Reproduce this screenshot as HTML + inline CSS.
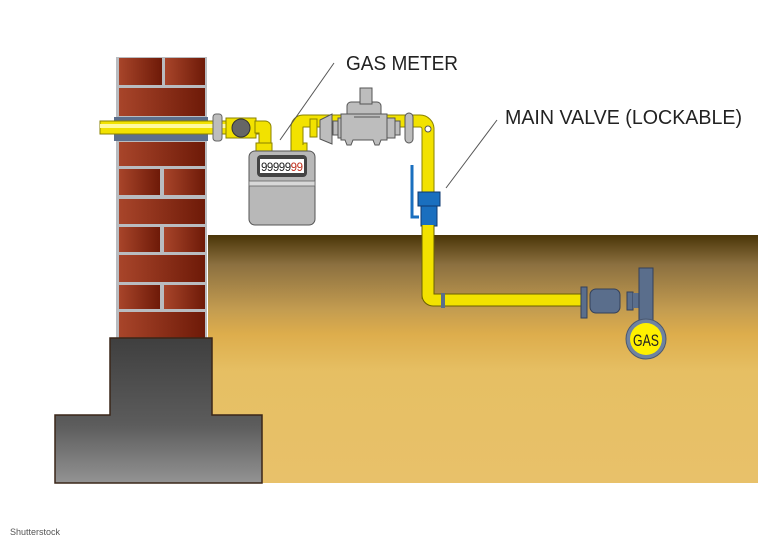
<!DOCTYPE html>
<html><head><style>body{margin:0;background:#fff}svg{display:block}</style></head><body>
<svg width="768" height="543" viewBox="0 0 768 543" xmlns="http://www.w3.org/2000/svg" font-family="Liberation Sans, sans-serif">
<defs>
<linearGradient id="gr" x1="0" y1="0" x2="0" y2="1">
<stop offset="0" stop-color="#4a3508"/><stop offset="0.12" stop-color="#8c7040"/><stop offset="0.3" stop-color="#c39c50"/><stop offset="0.4" stop-color="#ddad4c"/><stop offset="0.55" stop-color="#e6bf63"/><stop offset="1" stop-color="#e8c16a"/></linearGradient>
<linearGradient id="br" x1="0" y1="0" x2="1" y2="0"><stop offset="0" stop-color="#a8452a"/><stop offset="1" stop-color="#6e1a08"/></linearGradient>
<linearGradient id="fd" x1="0" y1="0" x2="0" y2="1"><stop offset="0" stop-color="#3f3f3f"/><stop offset="0.6" stop-color="#5c5c5c"/><stop offset="1" stop-color="#939393"/></linearGradient>
</defs>
<rect x="208" y="235" width="550" height="248" fill="url(#gr)"/>
<line x1="206" y1="170" x2="206" y2="338" stroke="#3a2a10" stroke-width="2"/>
<rect x="116" y="57" width="91" height="282" fill="#b9bcc0"/>
<g fill="url(#br)">
<rect x="119" y="58" width="43" height="27"/><rect x="165" y="58" width="40" height="27"/>
<rect x="119" y="88" width="86" height="28"/>
<rect x="119" y="142" width="86" height="24"/>
<rect x="119" y="169" width="41" height="26"/><rect x="164" y="169" width="41" height="26"/>
<rect x="119" y="199" width="86" height="25"/>
<rect x="119" y="227" width="41" height="25"/><rect x="164" y="227" width="41" height="25"/>
<rect x="119" y="255" width="86" height="27"/>
<rect x="119" y="285" width="41" height="24"/><rect x="164" y="285" width="41" height="24"/>
<rect x="119" y="312" width="86" height="26"/>
</g>
<path d="M110 338H212V415H262V483H55V415H110Z" fill="url(#fd)" stroke="#3a2618" stroke-width="1.5"/>
<rect x="114" y="117" width="94" height="24" fill="#5c6f8c"/>
<rect x="100" y="121" width="165" height="13" fill="#f2e200" stroke="#8a8200" stroke-width="1"/>
<rect x="100" y="124" width="165" height="4" fill="#fffaa0"/>
<rect x="213" y="114" width="9" height="27" rx="3" fill="#bdbdbd" stroke="#666"/>
<rect x="226" y="118" width="30" height="20" fill="#f2e200" stroke="#8a8200"/>
<circle cx="241" cy="128" r="9" fill="#666" stroke="#333"/>
<path d="M255 121h10a6 6 0 0 1 6 6v20h-12v-14h-4z" fill="#f2e200" stroke="#8a8200"/>
<rect x="256" y="143" width="16" height="8" fill="#f2e200" stroke="#8a8200"/>
<rect x="291" y="143" width="16" height="8" fill="#f2e200" stroke="#8a8200"/>
<rect x="249" y="151" width="66" height="74" rx="6" fill="#b8b8b8" stroke="#555"/>
<rect x="249" y="181" width="66" height="5" fill="#d8d8d8" stroke="#666" stroke-width="0.8"/>
<rect x="257" y="155" width="50" height="22" rx="4" fill="#444"/>
<rect x="260" y="159" width="44" height="14" fill="#fff"/>
<text x="261" y="171" font-size="11.5" fill="#222" textLength="42">99999<tspan fill="#c0301e">99</tspan></text>
<path d="M297 145v-18a6 6 0 0 1 6 -6h117a8 8 0 0 1 8 8v170" fill="none" stroke="#8a8200" stroke-width="13"/>
<path d="M297 145v-18a6 6 0 0 1 6 -6h117a8 8 0 0 1 8 8v170" fill="none" stroke="#f2e200" stroke-width="11"/>
<rect x="310" y="119" width="7" height="18" fill="#f2e200" stroke="#8a8200"/>
<path d="M320 120l12 -6v30l-12 -5z" fill="#bdbdbd" stroke="#555"/>
<rect x="333" y="121" width="5" height="14" fill="#bdbdbd" stroke="#555"/>
<rect x="338" y="118" width="10" height="20" fill="#bdbdbd" stroke="#555"/>
<rect x="385" y="118" width="10" height="20" fill="#bdbdbd" stroke="#555"/>
<rect x="395" y="121" width="5" height="14" fill="#bdbdbd" stroke="#555"/>
<path d="M347 114h40v26h-6l-2 5h-4l-2 -5h-20l-2 5h-4l-2 -5h-4v-26h6v-8a4 4 0 0 1 4 -4h26a4 4 0 0 1 4 4v8" fill="#bdbdbd" stroke="#555"/>
<line x1="354" y1="117" x2="380" y2="117" stroke="#555"/>
<rect x="360" y="88" width="12" height="16" fill="#bdbdbd" stroke="#555"/>
<rect x="405" y="113" width="8" height="30" rx="4" fill="#bdbdbd" stroke="#555"/>
<circle cx="428" cy="129" r="3" fill="#fff" stroke="#555"/>
<rect x="418" y="192" width="22" height="14" fill="#1a6fbf" stroke="#0d3a70"/>
<rect x="421" y="206" width="16" height="20" fill="#1a6fbf" stroke="#0d3a70"/>
<path d="M412 165v52h7" fill="none" stroke="#1a6fbf" stroke-width="3"/>
<path d="M428 225v70a5 5 0 0 0 5 5h150" fill="none" stroke="#6a6000" stroke-width="13"/>
<path d="M428 225v70a5 5 0 0 0 5 5h150" fill="none" stroke="#f2e200" stroke-width="11"/>
<rect x="441" y="293" width="4" height="15" fill="#5a6e8c"/>
<rect x="581" y="287" width="6" height="31" fill="#5a6e8c" stroke="#33405a"/>
<rect x="590" y="289" width="30" height="24" rx="6" fill="#5a6e8c" stroke="#33405a"/>
<rect x="627" y="292" width="6" height="18" fill="#5a6e8c" stroke="#33405a"/>
<rect x="633" y="293" width="14" height="15" fill="#5a6e8c"/>
<rect x="639" y="268" width="14" height="55" fill="#5a6e8c" stroke="#33405a"/>
<circle cx="646" cy="339" r="20" fill="#6f83a0" stroke="#4a5870"/>
<circle cx="646" cy="339" r="16" fill="#fff000"/>
<text x="633" y="346" font-size="17" fill="#222" textLength="26" lengthAdjust="spacingAndGlyphs">GAS</text>
<line x1="334" y1="63" x2="280" y2="140" stroke="#555" stroke-width="1"/>
<text x="346" y="70" font-size="20" fill="#222" textLength="112" lengthAdjust="spacingAndGlyphs">GAS METER</text>
<line x1="497" y1="120" x2="446" y2="188" stroke="#555" stroke-width="1"/>
<text x="505" y="124" font-size="20" fill="#222" textLength="237" lengthAdjust="spacingAndGlyphs">MAIN VALVE (LOCKABLE)</text>
<text x="10" y="535" font-size="9" fill="#555">Shutterstock</text>
</svg>
</body></html>
